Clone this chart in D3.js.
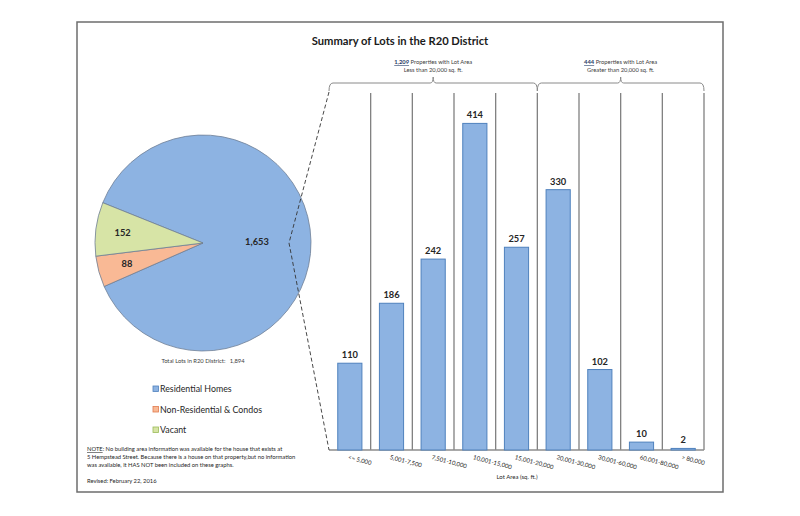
<!DOCTYPE html>
<html><head><meta charset="utf-8">
<script src="https://cdn.jsdelivr.net/npm/d3@7"></script>
<style>
html,body{margin:0;padding:0;background:#fff;}
svg{display:block;font-family:Lato,"Open Sans",sans-serif;}
</style></head>
<body>
<svg id="c" width="800" height="516"></svg>
<script>
const title = "Summary of Lots in the R20 District";
const pieCategories = ["Residential Homes", "Non-Residential & Condos", "Vacant"];
const pieValues = [1653, 88, 152];
const pieColors = ["#8db3e2", "#f9b995", "#d7e4a6"];
const pieStrokes = ["#4f81bd", "#e07a4f", "#9bbb59"];
const totalLabel = "Total Lots in R20 District:   1,894";
const barCategories = ["<= 5,000", "5,001-7,500", "7,501-10,000", "10,001-15,000", "15,001-20,000",
  "20,001-30,000", "30,001-60,000", "60,001-80,000", "> 80,000"];
const barValues = [110, 186, 242, 414, 257, 330, 102, 10, 2];
const groupRanges = [[0, 4], [5, 8]];
const groupLine2 = ["Less than 20,000 sq. ft.", "Greater than 20,000 sq. ft."];
const xAxisTitle = "Lot Area (sq. ft.)";
const noteLines = [
  "No building area information was available for the house that exists at",
  "5 Hempstead Street. Because there is a house on that property,but no information",
  "was available, it HAS NOT been included on these graphs."
];
const revised = "Revised: February 22, 2016";

const svg = d3.select("#c");

// frame
svg.append("rect").attr("x", 77).attr("y", 22).attr("width", 646).attr("height", 470)
  .attr("fill", "#fff").attr("stroke", "#6d6d6d").attr("stroke-width", 1.5);

svg.append("text").attr("x", 400).attr("y", 45).attr("text-anchor", "middle")
  .attr("font-size", 11.2).attr("font-weight", "bold").attr("fill", "#1a1a1a").text(title);

// ---- bar chart ----
const x = d3.scaleBand().domain(barCategories).range([329, 704]).padding(0);
const y = d3.scaleLinear().domain([0, 450]).range([450, 95]);
const step = x.step();
const barW = step * 0.58;

const g = svg.append("g");
g.selectAll("line.sep").data(barCategories).join("line").attr("class", "sep")
  .attr("x1", d => x(d) + step).attr("x2", d => x(d) + step)
  .attr("y1", 93).attr("y2", y(0))
  .attr("stroke", "#808080").attr("stroke-width", 1.3);
g.append("line").attr("x1", x.range()[0]).attr("x2", x.range()[1]).attr("y1", y(0)).attr("y2", y(0))
  .attr("stroke", "#8c8c8c").attr("stroke-width", 1.3);

g.selectAll("rect.bar").data(barValues).join("rect").attr("class", "bar")
  .attr("x", (d, i) => x(barCategories[i]) + (step - barW) / 2)
  .attr("y", d => y(d)).attr("width", barW).attr("height", d => y(0) - y(d))
  .attr("fill", "#8db3e2").attr("stroke", "#4f81bd").attr("stroke-width", 1);

g.selectAll("text.val").data(barValues).join("text").attr("class", "val")
  .attr("x", (d, i) => x(barCategories[i]) + step / 2)
  .attr("y", d => y(d) - 5).attr("text-anchor", "middle")
  .attr("font-size", 9.3).attr("font-weight", "bold").attr("fill", "#262626")
  .text(d => d3.format(",")(d));

g.selectAll("text.xl").data(barCategories).join("text").attr("class", "xl")
  .attr("transform", d => `translate(${x(d) + step / 2 - 2},${y(0) + 9}) rotate(15)`)
  .attr("font-size", 6).attr("fill", "#262626").text(d => d);

svg.append("text").attr("x", 517).attr("y", 479).attr("text-anchor", "middle")
  .attr("font-size", 6).attr("fill", "#262626").text(xAxisTitle);

// brackets
groupRanges.forEach((r, k) => {
  const x0 = x(barCategories[r[0]]), x1 = x(barCategories[r[1]]) + step;
  const xc = (x0 + x1) / 2, yt = 83, yb = 91, yk = 77;
  svg.append("path")
    .attr("d", `M${x0},${yb} Q${x0},${yt} ${x0 + 4},${yt} L${xc - 3},${yt} Q${xc},${yt} ${xc},${yk} Q${xc},${yt} ${xc + 3},${yt} L${x1 - 4},${yt} Q${x1},${yt} ${x1},${yb}`)
    .attr("fill", "none").attr("stroke", "#8a8a8a").attr("stroke-width", 1);
  const sum = d3.sum(barValues.slice(r[0], r[1] + 1));
  const t = svg.append("text").attr("x", xc).attr("y", 64).attr("text-anchor", "middle")
    .attr("font-size", 5.8).attr("fill", "#404040");
  t.append("tspan").attr("font-weight", "bold").attr("fill", "#1f3864")
    .attr("text-decoration", "underline").text(d3.format(",")(sum));
  t.append("tspan").text(" Properties with Lot Area");
  svg.append("text").attr("x", xc).attr("y", 72).attr("text-anchor", "middle")
    .attr("font-size", 5.8).attr("fill", "#404040").text(groupLine2[k]);
});

// ---- pie ----
const cx = 203, cy = 243, R = 108;
const pie = d3.pie().sort(null).startAngle(-68.1 * Math.PI / 180).endAngle((360 - 68.1) * Math.PI / 180);
const arcs = pie(pieValues);
const arc = d3.arc().innerRadius(0).outerRadius(R);
const pg = svg.append("g").attr("transform", `translate(${cx},${cy})`);
pg.selectAll("path").data(arcs).join("path").attr("d", arc)
  .attr("fill", (d, i) => pieColors[i]).attr("stroke", "#6f7f95").attr("stroke-width", 0.8);

const labelR = [0.5, 0.73, 0.75];
pg.selectAll("text").data(arcs).join("text")
  .attr("transform", (d, i) => {
    const a = (d.startAngle + d.endAngle) / 2;
    return `translate(${Math.sin(a) * R * labelR[i]},${-Math.cos(a) * R * labelR[i] + 3})`;
  })
  .attr("text-anchor", "middle").attr("font-size", 9.3).attr("font-weight", "bold").attr("fill", "#262626")
  .text(d => d3.format(",")(d.data));

// dashed connector
svg.append("path").attr("d", `M${x.range()[0]},${92} L${cx + 86},${cy} L${x.range()[0]},${y(0)}`)
  .attr("fill", "none").attr("stroke", "#333").attr("stroke-width", 0.9).attr("stroke-dasharray", "4,2.5");

svg.append("text").attr("x", 203).attr("y", 363).attr("text-anchor", "middle")
  .attr("font-size", 5.8).attr("fill", "#404040").attr("xml:space", "preserve").text(totalLabel);

// legend
const lg = svg.append("g");
pieCategories.forEach((c, i) => {
  const yy = 389 + i * 20.5;
  lg.append("rect").attr("x", 153).attr("y", yy - 3).attr("width", 5.5).attr("height", 5.5)
    .attr("fill", pieColors[i]).attr("stroke", pieStrokes[i]).attr("stroke-width", 0.8);
  lg.append("text").attr("x", 160).attr("y", yy + 3).attr("font-size", 8.8).attr("fill", "#262626").text(c);
});

// note
const nt = svg.append("text").attr("x", 87).attr("y", 451).attr("font-size", 5.8).attr("fill", "#262626");
nt.append("tspan").attr("text-decoration", "underline").text("NOTE");
nt.append("tspan").text(": " + noteLines[0]);
noteLines.slice(1).forEach((l, i) => {
  svg.append("text").attr("x", 87).attr("y", 459 + i * 8).attr("font-size", 5.8).attr("fill", "#262626").text(l);
});
svg.append("text").attr("x", 87).attr("y", 483).attr("font-size", 5.8).attr("fill", "#262626").text(revised);
</script>
</body></html>
